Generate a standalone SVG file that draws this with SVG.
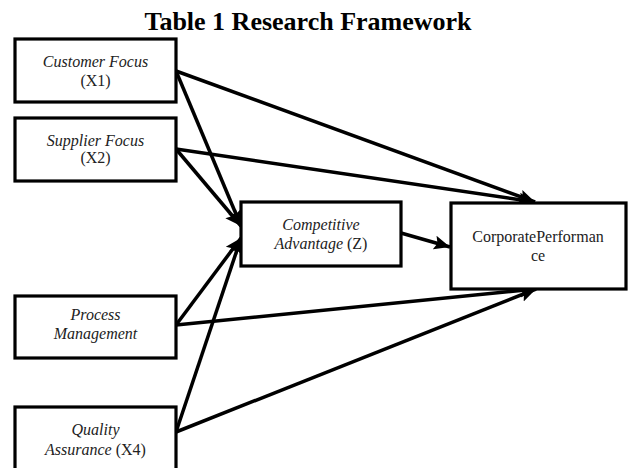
<svg xmlns="http://www.w3.org/2000/svg" width="635" height="468" viewBox="0 0 635 468">
<style>
.box{fill:#fff;stroke:#000;stroke-width:3.2}
.t{font-family:"Liberation Serif","Times New Roman",serif;font-size:16px;fill:#222;text-anchor:middle}
.i{font-style:italic}
.title{font-family:"Liberation Serif","Times New Roman",serif;font-size:26px;font-weight:bold;fill:#000;text-anchor:middle}
.c{stroke:#000;stroke-width:3.5;fill:none;marker-end:url(#ah)}
.c2{stroke:#000;stroke-width:3.5;fill:none}
</style>
<defs>
<marker id="ah" markerUnits="userSpaceOnUse" markerWidth="18" markerHeight="16" refX="16" refY="8" orient="auto">
<path d="M0,1 L16,8 L0,15 L3,8 Z" fill="#000"/>
</marker>
</defs>
<rect width="635" height="468" fill="#fff"/>
<text class="title" x="308" y="30">Table 1 Research Framework</text>
<g id="connectors">
<path class="c" d="M176,71 L535,202"/>
<path class="c" d="M176,71 L241,226"/>
<path class="c" d="M176,149 L535,202"/>
<path class="c" d="M176,149 L241,226"/>
<path class="c" d="M176,325 L241,238"/>
<path class="c" d="M176,325 L536,289"/>
<path class="c" d="M176,432 L241,238"/>
<path class="c" d="M176,432 L536,289"/>
<path class="c" d="M401,233 L450,247"/>
</g>
<g id="x1">
<rect class="box" x="15" y="39" width="161" height="63"/>
<text class="t i" x="95.5" y="67">Customer Focus</text>
<text class="t" x="95.5" y="86">(X1)</text>
</g>
<g id="x2">
<rect class="box" x="15" y="118" width="161" height="63"/>
<text class="t i" x="95.5" y="146">Supplier Focus</text>
<text class="t" x="95.5" y="163">(X2)</text>
</g>
<g id="x3">
<rect class="box" x="15" y="296" width="161" height="62"/>
<text class="t i" x="95.5" y="320">Process</text>
<text class="t i" x="95.5" y="339">Management</text>
</g>
<g id="x4">
<rect class="box" x="15" y="407" width="161" height="70"/>
<text class="t i" x="95.5" y="435">Quality</text>
<text class="t" x="95.5" y="455"><tspan class="i" font-style="italic">Assurance</tspan> (X4)</text>
</g>
<g id="z">
<rect class="box" x="241" y="202" width="160" height="64"/>
<text class="t i" x="321" y="230">Competitive</text>
<text class="t" x="321" y="249"><tspan font-style="italic">Advantage</tspan> (Z)</text>
</g>
<g id="y">
<rect class="box" x="451" y="203" width="175" height="86"/>
<text class="t" x="538" y="242">CorporatePerforman</text>
<text class="t" x="538" y="261">ce</text>
</g>
</svg>
